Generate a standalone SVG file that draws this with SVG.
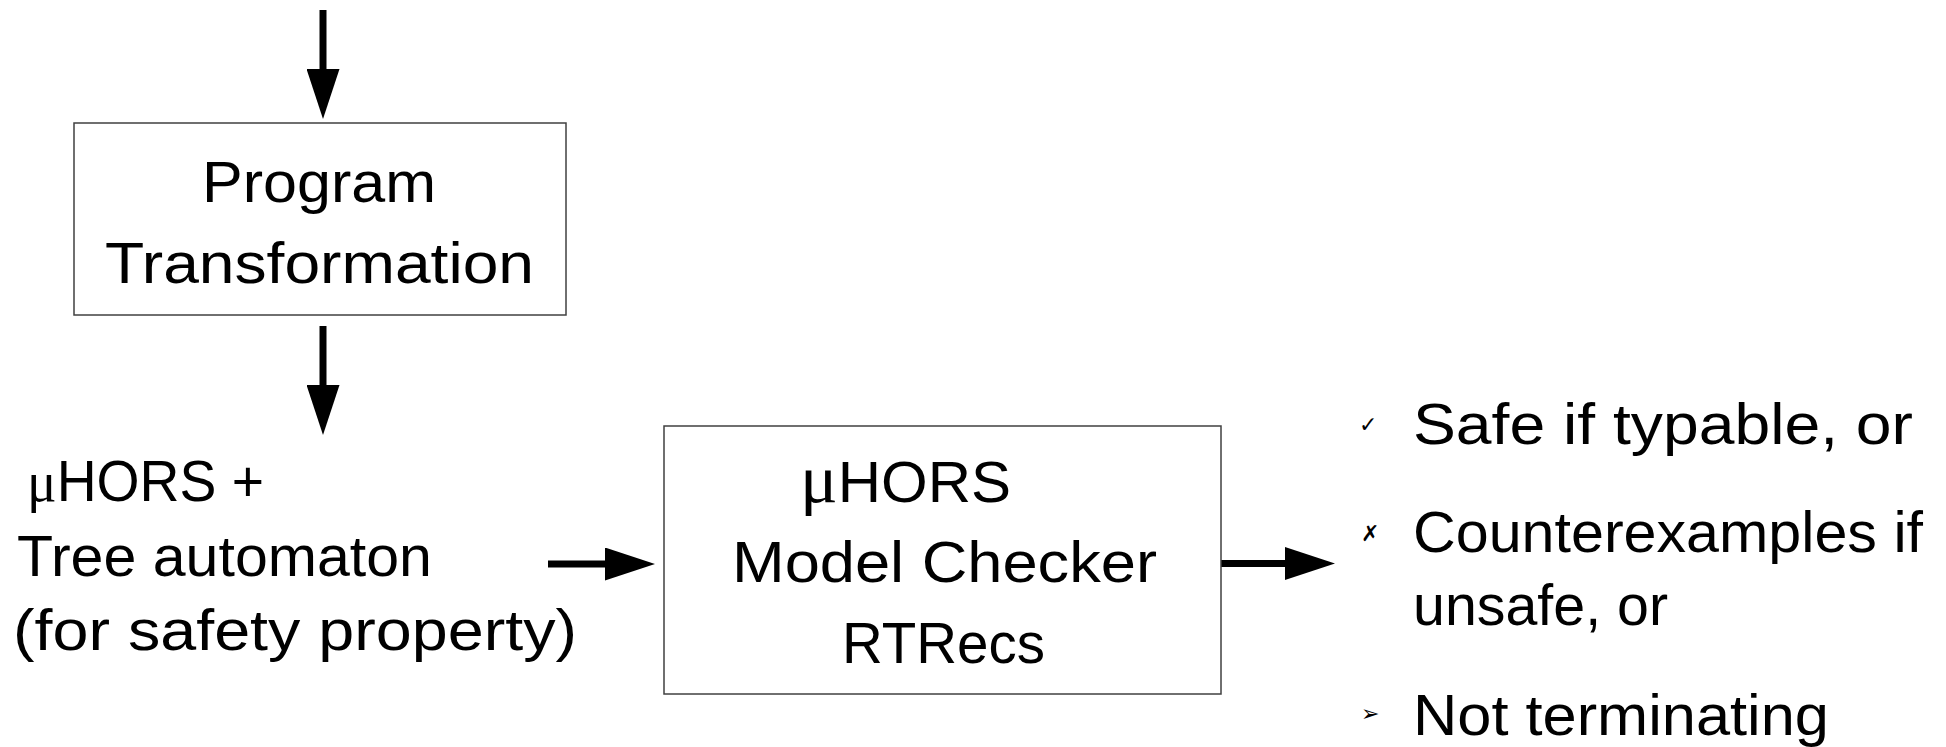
<svg xmlns="http://www.w3.org/2000/svg" width="1946" height="747" viewBox="0 0 1946 747">
  <style>
    .box { fill: #ffffff; stroke: #404040; stroke-width: 1.5; }
    .t { font-family: "Liberation Sans", "DejaVu Sans", sans-serif; font-size: 58px; fill: #000000; }
    .mu { font-family: "Liberation Serif", "DejaVu Serif", serif; }
    .conn { stroke: #000000; stroke-width: 7; fill: none; marker-end: url(#ah); }
    .bul { font-family: "DejaVu Sans", sans-serif; font-size: 22px; fill: #000000; }
  </style>
  <defs>
    <marker id="ah" viewBox="0 0 50 33" markerUnits="userSpaceOnUse" markerWidth="50" markerHeight="33" refX="5" refY="16.5" orient="auto">
      <path d="M0,0 L50,16.5 L0,33 Z" fill="#000000"/>
    </marker>
  </defs>
  <rect width="1946" height="747" fill="#ffffff"/>

  <g id="connectors">
    <line class="conn" x1="323" y1="10" x2="323" y2="74"/>
    <line class="conn" x1="323" y1="326" x2="323" y2="390"/>
    <line class="conn" x1="548" y1="564" x2="610" y2="564"/>
    <line class="conn" x1="1221" y1="563.5" x2="1290" y2="563.5"/>
  </g>

  <g id="program-transformation">
    <rect class="box" x="74" y="123" width="492" height="192"/>
    <text class="t" x="202" y="202" textLength="234" lengthAdjust="spacingAndGlyphs">Program</text>
    <text class="t" x="105" y="283" textLength="429" lengthAdjust="spacingAndGlyphs">Transformation</text>
  </g>

  <g id="input-label">
    <text class="t" x="27" y="501" textLength="237" lengthAdjust="spacingAndGlyphs"><tspan class="mu">μ</tspan>HORS +</text>
    <text class="t" x="17" y="576" textLength="415" lengthAdjust="spacingAndGlyphs">Tree automaton</text>
    <text class="t" x="13" y="650" textLength="564" lengthAdjust="spacingAndGlyphs">(for safety property)</text>
  </g>

  <g id="model-checker">
    <rect class="box" x="664" y="426" width="557" height="268"/>
    <text class="t" x="800" y="502" textLength="211" lengthAdjust="spacingAndGlyphs"><tspan class="mu" font-size="68">μ</tspan>HORS</text>
    <text class="t" x="732" y="582" textLength="425" lengthAdjust="spacingAndGlyphs">Model Checker</text>
    <text class="t" x="842" y="663" textLength="203" lengthAdjust="spacingAndGlyphs">RTRecs</text>
  </g>

  <g id="results">
    <text class="bul" x="1359" y="432">✓</text>
    <text class="t" x="1413" y="444" textLength="500" lengthAdjust="spacingAndGlyphs">Safe if typable, or</text>
    <text class="bul" x="1361" y="541">✗</text>
    <text class="t" x="1413" y="552" textLength="510" lengthAdjust="spacingAndGlyphs">Counterexamples if</text>
    <text class="t" x="1413" y="625" textLength="255" lengthAdjust="spacingAndGlyphs">unsafe, or</text>
    <text class="bul" x="1361" y="721">➢</text>
    <text class="t" x="1413" y="735" textLength="416" lengthAdjust="spacingAndGlyphs">Not terminating</text>
  </g>
</svg>
